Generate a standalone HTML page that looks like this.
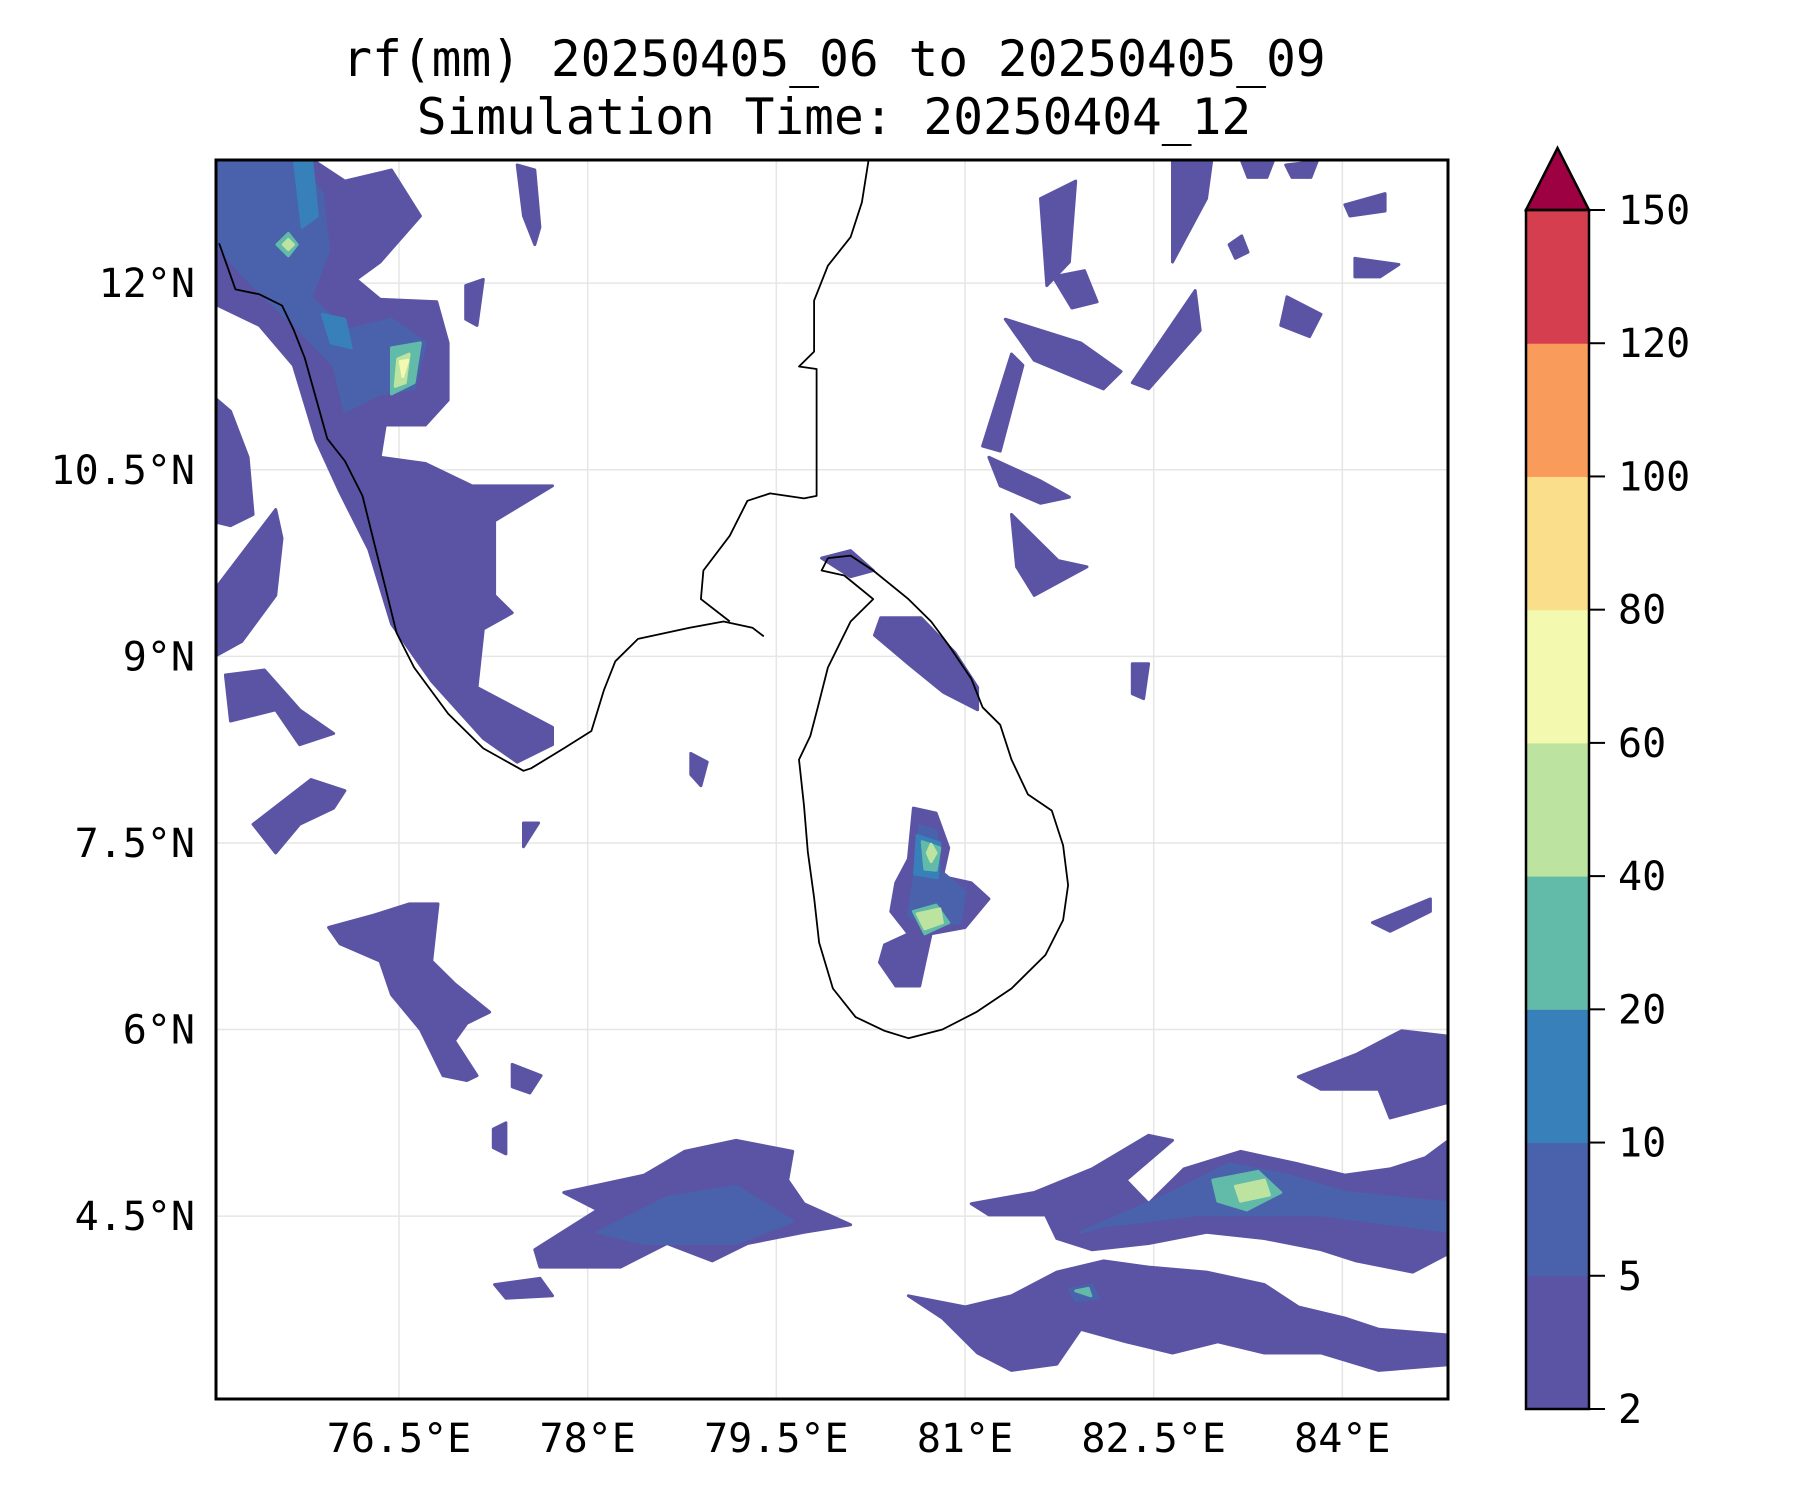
<!DOCTYPE html>
<html><head><meta charset="utf-8"><style>
html,body{margin:0;padding:0;background:#fff}
svg{display:block}
text{font-family:"DejaVu Sans Mono","Liberation Mono",monospace;fill:#000}
</style></head><body>
<svg id="chart" width="1800" height="1500" viewBox="0 0 1800 1500" xmlns="http://www.w3.org/2000/svg">
<defs><clipPath id="mapclip"><rect x="216" y="160" width="1232" height="1239"/></clipPath></defs>
<text x="834" y="76" font-size="49.5" text-anchor="middle">rf(mm) 20250405_06 to 20250405_09</text>
<text x="834" y="134" font-size="49.5" text-anchor="middle">Simulation Time: 20250404_12</text>
<rect x="216" y="160" width="1232" height="1239" fill="#fff"/>
<g id="grid" clip-path="url(#mapclip)"></g>
<g id="rain" clip-path="url(#mapclip)"></g>
<g id="coast" clip-path="url(#mapclip)"></g>
<rect x="216" y="160" width="1232" height="1239" fill="none" stroke="#000" stroke-width="3"/>
<g id="xlabels"></g>
<g id="ylabels"></g>
<g id="cbar"></g>
</svg>
<script>
const lonTicks=[76.5,78,79.5,81,82.5,84];
const latTicks=[4.5,6,7.5,9,10.5,12];
const lonTickLabels=["76.5°E","78°E","79.5°E","81°E","82.5°E","84°E"];
const latTickLabels=["4.5°N","6°N","7.5°N","9°N","10.5°N","12°N"];
const levelBounds=[2,5,10,20,40,60,80,100,120,150];
const levelColors=["#5b53a4","#4a62ab","#3780b9","#62baa9","#bce3a0","#f3f9ae","#fbde8c","#f99b5a","#d53e4f"];
const extendColor="#9e0142";
const indiaCoast=[[75.07,12.32],[75.20,11.95],[75.39,11.91],[75.57,11.82],[75.66,11.63],[75.75,11.40],[75.93,10.75],[76.07,10.57],[76.21,10.29],[76.30,9.92],[76.39,9.56],[76.48,9.19],[76.62,8.91],[76.89,8.54],[77.17,8.26],[77.49,8.08],[77.55,8.10],[77.81,8.26],[78.03,8.40],[78.13,8.73],[78.22,8.96],[78.40,9.14],[78.81,9.23],[79.08,9.28],[79.31,9.23],[79.40,9.16]];
const palkCoast=[[79.13,9.28],[78.90,9.46],[78.92,9.69],[79.13,9.97],[79.27,10.25],[79.45,10.31],[79.72,10.27],[79.82,10.29],[79.82,11.31],[79.68,11.33],[79.80,11.45],[79.80,11.86],[79.91,12.14],[80.09,12.37],[80.18,12.65],[80.23,12.97],[80.25,13.1]];
const sriLankaCoast=[[79.91,9.79],[80.09,9.81],[80.27,9.69],[80.55,9.46],[80.73,9.28],[80.87,9.09],[81.05,8.82],[81.14,8.59],[81.28,8.45],[81.37,8.17],[81.50,7.89],[81.69,7.76],[81.78,7.48],[81.82,7.16],[81.78,6.88],[81.64,6.60],[81.37,6.33],[81.09,6.14],[80.82,6.00],[80.55,5.93],[80.36,5.99],[80.13,6.10],[79.95,6.33],[79.84,6.70],[79.80,7.06],[79.75,7.43],[79.72,7.80],[79.68,8.17],[79.77,8.36],[79.83,8.59],[79.91,8.91],[80.09,9.28],[80.27,9.46],[80.04,9.65],[79.86,9.69],[79.91,9.79]];
const rainLevels=[0,1,2,2,3,4,5,3,4,0,0,0,0,0,0,0,0,0,1,1,2,3,4,5,3,4,0,0,0,0,0,0,0,0,0,0,0,0,0,1,3,4,0,1,3,0,0,0,0,0,0,0,0,0,0,0,0,0];
const rainShapes=[
[[75.07,13.0],[75.80,13.0],[76.07,12.82],[76.44,12.91],[76.67,12.54],[76.35,12.17],[76.16,12.03],[76.35,11.87],[76.80,11.85],[76.89,11.52],[76.89,11.06],[76.71,10.86],[76.39,10.86],[76.35,10.60],[76.71,10.55],[77.08,10.37],[77.72,10.37],[77.26,10.09],[77.26,9.49],[77.40,9.35],[77.17,9.22],[77.12,8.75],[77.72,8.43],[77.72,8.29],[77.44,8.15],[77.17,8.34],[76.76,8.80],[76.44,9.26],[76.26,9.86],[76.03,10.32],[75.84,10.74],[75.66,11.34],[75.39,11.66],[75.0,11.85],[75.0,13.05]],
[[75.0,13.05],[75.71,12.95],[75.89,12.72],[75.94,12.26],[75.80,11.89],[76.07,11.62],[76.44,11.71],[76.71,11.52],[76.62,11.15],[76.35,11.11],[76.07,10.97],[75.98,11.34],[75.71,11.62],[75.34,11.98],[75.0,12.35]],
[[75.66,13.05],[75.80,13.05],[75.85,12.54],[75.73,12.45]],
[[75.89,11.75],[76.07,11.71],[76.12,11.48],[75.96,11.52]],
[[76.44,11.48],[76.67,11.52],[76.62,11.20],[76.44,11.11]],
[[76.49,11.39],[76.58,11.43],[76.55,11.20],[76.47,11.17]],
[[76.51,11.37],[76.57,11.38],[76.53,11.25]],
[[75.53,12.31],[75.62,12.40],[75.69,12.31],[75.62,12.22]],
[[75.58,12.31],[75.62,12.35],[75.66,12.31],[75.62,12.27]],
[[75.0,11.11],[75.16,10.97],[75.30,10.60],[75.34,10.14],[75.16,10.05],[75.0,10.09]],
[[75.0,9.49],[75.52,10.18],[75.57,9.95],[75.52,9.49],[75.25,9.12],[75.0,8.98]],
[[75.12,8.85],[75.43,8.89],[75.71,8.57],[75.98,8.38],[75.71,8.29],[75.52,8.57],[75.16,8.48]],
[[75.34,7.65],[75.80,8.01],[76.07,7.92],[75.98,7.78],[75.71,7.65],[75.52,7.42]],
[[75.94,6.82],[76.30,6.92],[76.58,7.01],[76.81,7.01],[76.76,6.55],[76.94,6.37],[77.22,6.14],[77.04,6.05],[76.94,5.91],[77.12,5.63],[77.04,5.59],[76.85,5.63],[76.67,6.00],[76.44,6.28],[76.35,6.55],[76.03,6.69]],
[[77.40,5.72],[77.63,5.63],[77.54,5.49],[77.40,5.54]],
[[77.58,4.23],[78.08,4.55],[77.81,4.69],[78.45,4.83],[78.77,5.02],[79.18,5.11],[79.63,5.02],[79.59,4.79],[79.72,4.60],[80.09,4.43],[79.72,4.37],[79.27,4.28],[78.99,4.14],[78.63,4.28],[78.26,4.09],[77.62,4.09]],
[[77.26,3.95],[77.62,4.00],[77.72,3.86],[77.35,3.84]],
[[80.59,7.78],[80.77,7.74],[80.87,7.46],[80.82,7.23],[81.05,7.18],[81.19,7.05],[81.00,6.82],[80.73,6.77],[80.68,6.54],[80.64,6.35],[80.45,6.35],[80.32,6.54],[80.36,6.68],[80.55,6.77],[80.41,6.95],[80.45,7.18],[80.55,7.37]],
[[78.08,4.37],[78.63,4.65],[79.18,4.74],[79.63,4.46],[79.18,4.28],[78.45,4.28]],
[[80.64,7.64],[80.77,7.60],[80.80,7.28],[81.00,7.11],[80.96,6.86],[80.73,6.83],[80.55,6.91],[80.59,7.18]],
[[80.62,7.56],[80.80,7.50],[80.78,7.22],[80.60,7.25]],
[[80.66,7.51],[80.80,7.46],[80.77,7.28],[80.68,7.29]],
[[80.73,7.49],[80.77,7.42],[80.73,7.35],[80.70,7.42]],
[[80.66,6.91],[80.77,6.93],[80.75,6.84]],
[[80.59,6.95],[80.77,7.00],[80.87,6.86],[80.68,6.77]],
[[80.62,6.93],[80.80,6.97],[80.82,6.86],[80.68,6.81]],
[[80.33,9.31],[80.65,9.31],[80.92,9.03],[81.10,8.75],[81.10,8.57],[80.83,8.71],[80.55,8.94],[80.28,9.17]],
[[79.86,9.79],[80.09,9.85],[80.27,9.69],[80.09,9.64]],
[[82.33,11.20],[82.83,11.94],[82.87,11.62],[82.46,11.15]],
[[81.14,10.69],[81.37,11.43],[81.46,11.34],[81.28,10.65]],
[[81.19,10.60],[81.60,10.41],[81.83,10.28],[81.60,10.23],[81.28,10.37]],
[[81.37,10.14],[81.74,9.77],[81.97,9.72],[81.55,9.49],[81.41,9.72]],
[[81.60,12.68],[81.88,12.82],[81.83,12.17],[81.65,11.98]],
[[82.65,13.05],[82.97,13.05],[82.92,12.68],[82.65,12.17],[82.65,12.54]],
[[84.02,12.63],[84.34,12.72],[84.34,12.58],[84.06,12.54]],
[[81.32,11.71],[81.92,11.52],[82.24,11.29],[82.10,11.15],[81.55,11.38]],
[[83.56,11.89],[83.83,11.75],[83.74,11.57],[83.51,11.66]],
[[81.05,4.60],[81.55,4.69],[82.01,4.88],[82.46,5.15],[82.65,5.11],[82.28,4.79],[82.46,4.60],[82.74,4.88],[83.19,5.02],[83.65,4.92],[84.02,4.83],[84.38,4.88],[84.66,4.97],[84.9,5.15],[84.9,4.23],[84.56,4.05],[84.11,4.14],[83.83,4.23],[83.38,4.32],[82.92,4.37],[82.46,4.28],[82.01,4.23],[81.73,4.32],[81.64,4.51],[81.19,4.51]],
[[80.55,3.86],[81.00,3.77],[81.37,3.86],[81.73,4.05],[82.10,4.14],[82.46,4.09],[82.92,4.05],[83.38,3.95],[83.65,3.77],[84.02,3.68],[84.29,3.59],[84.9,3.54],[84.9,3.31],[84.29,3.26],[83.83,3.40],[83.38,3.40],[83.01,3.49],[82.65,3.40],[82.28,3.49],[81.92,3.59],[81.73,3.31],[81.37,3.26],[81.10,3.40],[80.82,3.68]],
[[82.65,4.69],[83.10,4.92],[83.56,4.83],[84.02,4.69],[84.9,4.60],[84.9,4.37],[83.83,4.51],[83.38,4.51],[82.83,4.51],[82.10,4.42],[81.92,4.37]],
[[82.97,4.79],[83.33,4.86],[83.51,4.69],[83.24,4.55],[83.01,4.62]],
[[83.15,4.74],[83.38,4.79],[83.42,4.67],[83.19,4.62]],
[[81.37,3.72],[81.83,3.91],[82.46,3.95],[83.19,3.82],[83.83,3.59],[83.38,3.54],[82.46,3.68],[81.83,3.68],[81.46,3.54]],
[[81.83,3.91],[82.01,3.95],[82.06,3.84],[81.88,3.82]],
[[81.88,3.90],[81.98,3.92],[82.00,3.86]],
[[83.65,5.62],[84.11,5.80],[84.47,5.99],[84.9,5.94],[84.9,5.43],[84.38,5.29],[84.29,5.52],[83.83,5.52]],
[[84.24,6.86],[84.70,7.05],[84.70,6.95],[84.38,6.79]],
[[82.33,8.94],[82.46,8.94],[82.42,8.66],[82.33,8.70]],
[[77.49,7.66],[77.61,7.66],[77.49,7.47]],
[[78.82,8.22],[78.95,8.15],[78.90,7.96],[78.82,8.05]],
[[77.44,12.95],[77.58,12.91],[77.62,12.45],[77.58,12.31],[77.49,12.54]],
[[77.03,11.98],[77.17,12.03],[77.12,11.66],[77.03,11.71]],
[[83.20,12.98],[83.45,12.98],[83.40,12.85],[83.25,12.85]],
[[83.10,12.31],[83.20,12.38],[83.25,12.25],[83.15,12.20]],
[[83.55,12.95],[83.80,12.98],[83.75,12.85],[83.60,12.85]],
[[84.10,12.20],[84.45,12.15],[84.30,12.05],[84.10,12.05]],
[[81.70,12.05],[81.95,12.10],[82.05,11.85],[81.85,11.80]],
[[77.25,5.20],[77.35,5.25],[77.35,5.00],[77.25,5.05]]
];
const LON0=75.045,LON1=84.84,LAT0=3.03,LAT1=12.99;
const X0=216,X1=1448,Y0=160,Y1=1399;
function xs(lon){return X0+(lon-LON0)/(LON1-LON0)*(X1-X0);}
function ys(lat){return Y1-(lat-LAT0)/(LAT1-LAT0)*(Y1-Y0);}
const NS="http://www.w3.org/2000/svg";
function mk(tag,attrs,parent){const e=document.createElementNS(NS,tag);for(const k in attrs)e.setAttribute(k,attrs[k]);parent.appendChild(e);return e;}
const grid=document.getElementById('grid');
lonTicks.forEach((v,i)=>{
  const l=mk('line',{x1:xs(v),x2:xs(v),y1:Y0,y2:Y1,stroke:'#e6e6e6','stroke-width':1.5},grid);
  
  
  const t=mk('text',{x:xs(v),y:1452,'font-size':40,'text-anchor':'middle'},document.getElementById('xlabels'));
  t.textContent=lonTickLabels[i];
  
  
});
latTicks.forEach((v,i)=>{
  const l=mk('line',{x1:X0,x2:X1,y1:ys(v),y2:ys(v),stroke:'#e6e6e6','stroke-width':1.5},grid);
  
  
  const t=mk('text',{x:195,y:ys(v)+14,'font-size':40,'text-anchor':'end'},document.getElementById('ylabels'));
  t.textContent=latTickLabels[i];
  
  
});
const rain=document.getElementById('rain');
rainShapes.forEach((pts,i)=>{
  const col=levelColors[rainLevels[i]||0];
  const p=mk('polygon',{points:pts.map(q=>xs(q[0]).toFixed(1)+','+ys(q[1]).toFixed(1)).join(' '),fill:col,stroke:col,'stroke-width':3,'stroke-linejoin':'round'},rain);
  
  
});
const coast=document.getElementById('coast');
[indiaCoast,palkCoast,sriLankaCoast].forEach(c=>{
  const p=mk('polyline',{points:c.map(q=>xs(q[0]).toFixed(1)+','+ys(q[1]).toFixed(1)).join(' '),fill:'none',stroke:'#000','stroke-width':1.8,'stroke-linejoin':'round'},coast);
  
  
});
const cb=document.getElementById('cbar');
const CX0=1526,CX1=1589,CT=210,CB=1409,n=levelColors.length;
const bh=(CB-CT)/n;
levelColors.forEach((c,i)=>{
  const r=mk('rect',{x:CX0,y:CB-(i+1)*bh,width:CX1-CX0,height:bh+0.5,fill:c},cb);
  
  
});
const tri=mk('polygon',{points:`${CX0},${CT} ${(CX0+CX1)/2},${CT-62} ${CX1},${CT}`,fill:extendColor,stroke:'#000','stroke-width':2.5,'stroke-linejoin':'miter'},cb);


const fr=mk('rect',{x:CX0,y:CT,width:CX1-CX0,height:CB-CT,fill:'none',stroke:'#000','stroke-width':2.5},cb);


levelBounds.forEach((v,i)=>{
  const y=CB-i*bh;
  const tk=mk('line',{x1:CX1,x2:CX1+16,y1:y,y2:y,stroke:'#000','stroke-width':2},cb);
  
  
  const t=mk('text',{x:1618,y:y+14,'font-size':40},cb);
  t.textContent=v;
  
  
});
</script>
</body></html>
